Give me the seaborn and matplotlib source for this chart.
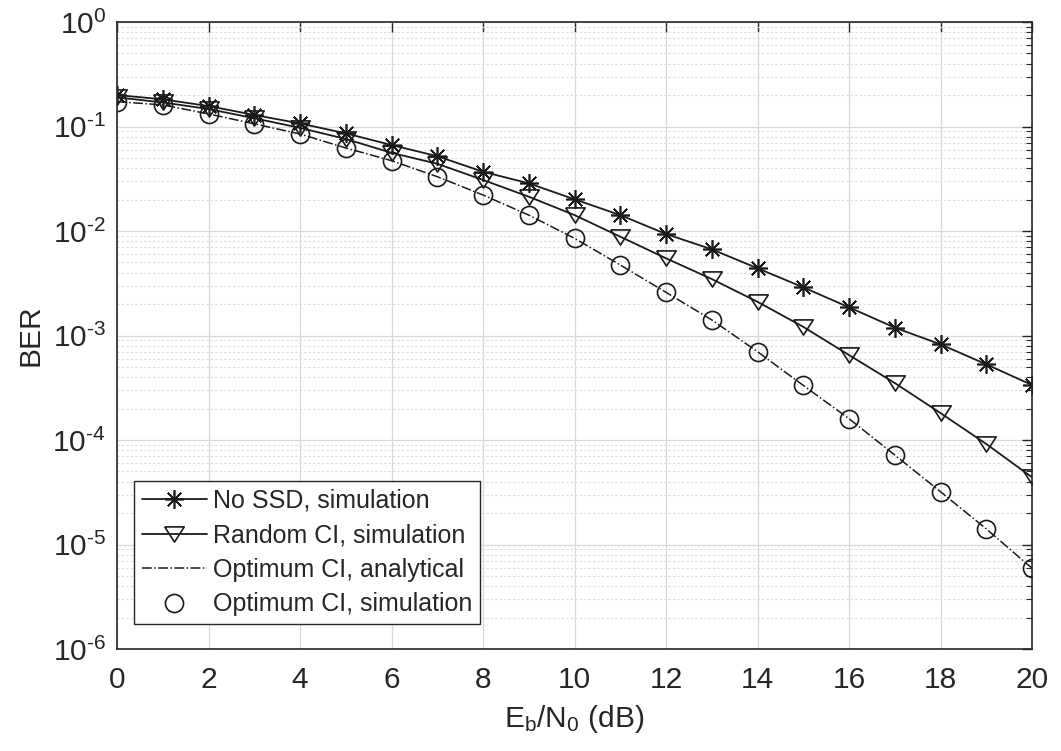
import matplotlib
matplotlib.use("Agg")
import matplotlib.pyplot as plt
import matplotlib.ticker as mticker
import seaborn as sns
import pandas as pd
import math

# ---- data ----
ebn0_db = list(range(21))
no_ssd_sim = [0.200, 0.182, 0.157, 0.129, 0.107, 0.086, 0.0665, 0.052, 0.0369, 0.0286,
              0.0201, 0.0142, 0.00936, 0.00668, 0.00440, 0.00289, 0.00186, 0.00119,
              0.000823, 0.000530, 0.000336]
random_ci_sim = [0.190, 0.170, 0.147, 0.120, 0.097, 0.076, 0.056, 0.044, 0.0308, 0.0213,
                 0.0142, 0.00882, 0.00548, 0.00347, 0.00210, 0.00121, 0.000650, 0.000351,
                 0.000181, 0.0000916, 0.0000440]
optimum_ci_ana = [0.173, 0.161, 0.132, 0.106, 0.0848, 0.0623, 0.0471, 0.0331, 0.0221, 0.0142,
                  0.00851, 0.00473, 0.00259, 0.00141, 0.000700, 0.000333, 0.000160,
                  0.0000718, 0.0000320, 0.0000141, 0.00000592]
optimum_ci_sim = [0.173, 0.161, 0.132, 0.106, 0.0848, 0.0623, 0.0471, 0.0331, 0.0221, 0.0142,
                  0.00851, 0.00473, 0.00259, 0.00141, 0.000700, 0.000333, 0.000160,
                  0.0000718, 0.0000320, 0.0000141, 0.00000592]
labels = ["No SSD, simulation", "Random CI, simulation",
          "Optimum CI, analytical", "Optimum CI, simulation"]
x_ticks = list(range(0, 21, 2))
y_ticks = [1e-6, 1e-5, 1e-4, 1e-3, 1e-2, 1e-1, 1e0]

sns.set_theme(style="white")
plt.rcParams['font.family'] = ['Liberation Sans', 'DejaVu Sans']
plt.rcParams['mathtext.fontset'] = 'custom'
plt.rcParams['mathtext.rm'] = 'Liberation Sans'
plt.rcParams['mathtext.it'] = 'Liberation Sans'
plt.rcParams['mathtext.default'] = 'regular'
plt.rcParams['axes.unicode_minus'] = False

txt = '#262626'
fig = plt.figure(figsize=(10.61, 7.51), dpi=100)
ax = fig.add_axes([0.1103, 0.1358, 0.8624, 0.8349])

df = pd.DataFrame({"x": ebn0_db, "a": no_ssd_sim, "b": random_ci_sim,
                   "c": optimum_ci_ana, "d": optimum_ci_sim})

star = (8, 2, 0)
tri = [(-1, 0.78), (1, 0.78), (0, -0.78), (-1, 0.78)]

sns.lineplot(data=df, x="x", y="a", ax=ax, color='k', lw=1.3, marker=star,
             ms=13.5, mew=1.2, mec='k', label=labels[0])
sns.lineplot(data=df, x="x", y="b", ax=ax, color='k', lw=1.3, marker=tri,
             ms=14, mew=1.2, mfc='none', mec='k', label=labels[1])
sns.lineplot(data=df, x="x", y="c", ax=ax, color='k', lw=1.1, ls='-.',
             label=labels[2])
sns.lineplot(data=df, x="x", y="d", ax=ax, color='k', ls='none', marker='o',
             ms=13, mew=1.2, mfc='none', mec='k', label=labels[3])

ax.set_yscale('log')
ax.set_xlim(0, 20)
ax.set_ylim(1e-6, 1)
ax.set_xticks(x_ticks)
ax.set_yticks(y_ticks)


def log_fmt(v, pos):
    e = int(round(math.log10(v)))
    s = str(e).replace('-', '\u2010')
    return r'$10^{%s}$' % s


ax.yaxis.set_major_formatter(mticker.FuncFormatter(log_fmt))
ax.yaxis.set_minor_locator(mticker.LogLocator(base=10, subs=range(2, 10), numticks=20))
ax.yaxis.set_minor_formatter(mticker.NullFormatter())

ax.grid(True, which='major', color='#d9d9d9', lw=0.9, ls='-')
ax.grid(True, which='minor', axis='y', color='#dcdcdc', lw=0.8, ls=(0, (2, 2)))
ax.set_axisbelow(True)

for s in ax.spines.values():
    s.set_color(txt)
    s.set_linewidth(1.2)
ax.tick_params(which='both', direction='in', top=True, right=True, colors=txt,
               labelcolor=txt)
ax.tick_params(which='major', length=7, width=1.0, labelsize=21.5)
ax.tick_params(axis='x', which='major', pad=12)
ax.tick_params(axis='y', which='major', pad=8)
ax.tick_params(which='minor', length=4, width=0.8)

ax.set_xlabel('E$_{b}$/N$_{0}$ (dB)', fontsize=21.5, color=txt, labelpad=7)
ax.set_ylabel('BER', fontsize=21.5, color=txt, labelpad=6)

leg = ax.legend(loc='lower left', bbox_to_anchor=(0.0186, 0.0399), borderaxespad=0,
                fontsize=18, frameon=True, fancybox=False, edgecolor=txt,
                framealpha=1, handlelength=2.6, handletextpad=0.25,
                labelspacing=0.42, borderpad=0.3)
leg.get_frame().set_linewidth(1.0)
for t in leg.get_texts():
    t.set_color(txt)

fig.savefig('out.png', dpi=100, facecolor='white')
